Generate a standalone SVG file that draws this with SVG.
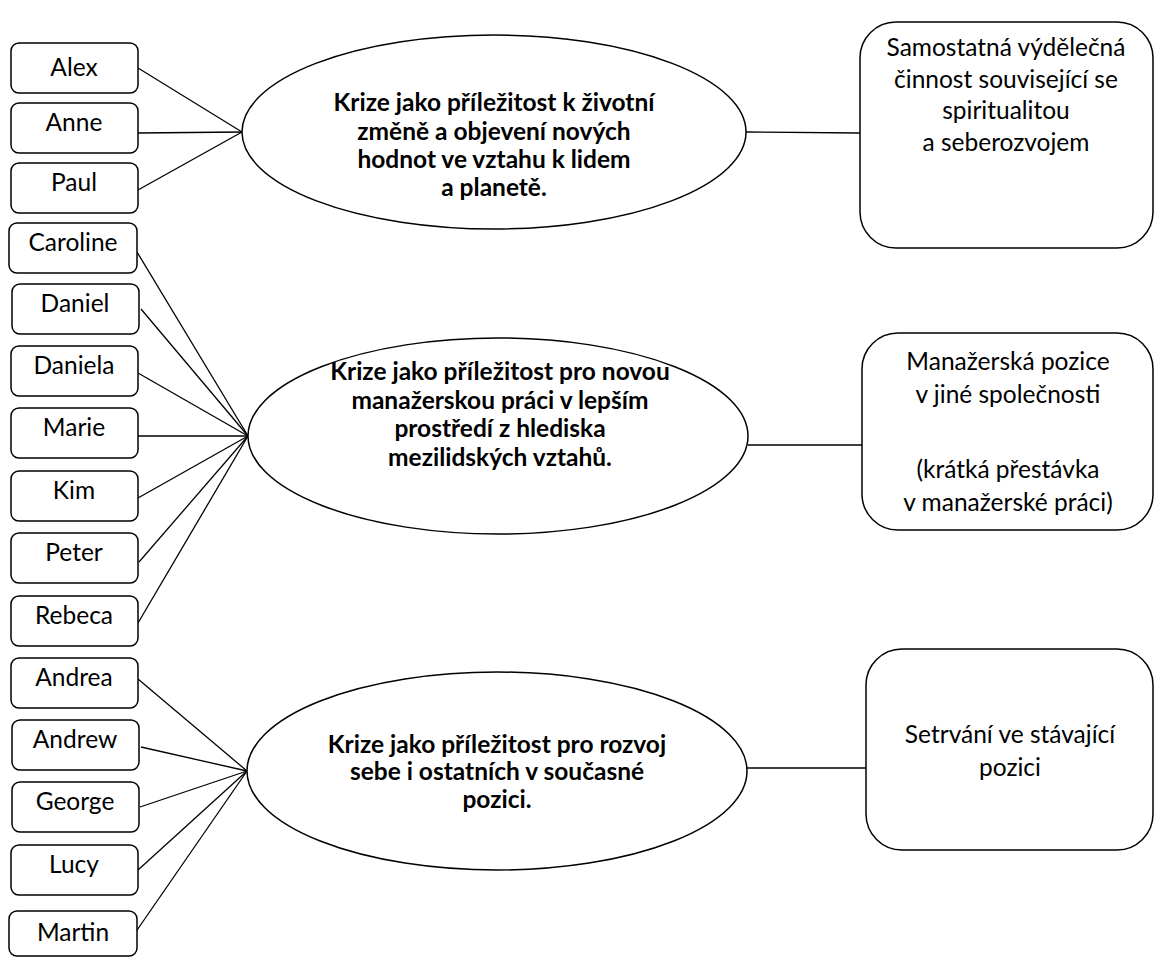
<svg xmlns="http://www.w3.org/2000/svg" width="1155" height="958" viewBox="0 0 1155 958">
  <style>
    .name rect { fill: #fff; stroke: #000; stroke-width: 1.5; }
    .name text { font-family: Lato, "Liberation Sans", sans-serif; font-size: 24.5px; text-anchor: middle; fill: #000; }
    .theme ellipse { fill: #fff; stroke: #000; stroke-width: 1.5; }
    .theme text { font-family: Lato, "Liberation Sans", sans-serif; font-size: 24.5px; font-weight: bold; text-anchor: middle; fill: #000; }
    .outcome rect { fill: #fff; stroke: #000; stroke-width: 1.5; }
    .outcome text { font-family: Lato, "Liberation Sans", sans-serif; font-size: 24.5px; text-anchor: middle; fill: #000; }
    #connectors line { stroke: #000; stroke-width: 1.3; }
  </style>

  <!-- connectors: participants to themes, themes to outcomes -->
  <g id="connectors">
    <line x1="138" y1="68" x2="242" y2="132"/>
    <line x1="138" y1="133" x2="242" y2="132"/>
    <line x1="138" y1="190" x2="242" y2="132"/>

    <line x1="137" y1="252" x2="248" y2="436"/>
    <line x1="141" y1="309" x2="248" y2="436"/>
    <line x1="138" y1="373" x2="248" y2="436"/>
    <line x1="138" y1="436" x2="248" y2="436"/>
    <line x1="138" y1="498" x2="248" y2="436"/>
    <line x1="139" y1="562" x2="248" y2="436"/>
    <line x1="138" y1="623" x2="248" y2="436"/>

    <line x1="138" y1="679" x2="247" y2="771"/>
    <line x1="141" y1="747" x2="247" y2="771"/>
    <line x1="140" y1="807" x2="247" y2="771"/>
    <line x1="138" y1="870" x2="247" y2="771"/>
    <line x1="135" y1="933" x2="247" y2="771"/>

    <line x1="746" y1="132" x2="860" y2="133"/>
    <line x1="748" y1="445" x2="862" y2="445"/>
    <line x1="747" y1="768" x2="866" y2="768"/>
  </g>

  <!-- participants -->
  <g id="n-alex" class="name"><rect x="11" y="43" width="127" height="50" rx="8"/><text x="74" y="76">Alex</text></g>
  <g id="n-anne" class="name"><rect x="11" y="103" width="127" height="50" rx="8"/><text x="74" y="131">Anne</text></g>
  <g id="n-paul" class="name"><rect x="11" y="163" width="127" height="50" rx="8"/><text x="74" y="191">Paul</text></g>

  <g id="n-caroline" class="name"><rect x="9" y="223" width="128" height="50" rx="8"/><text x="73" y="251">Caroline</text></g>
  <g id="n-daniel" class="name"><rect x="12" y="284" width="127" height="50" rx="8"/><text x="75" y="312">Daniel</text></g>
  <g id="n-daniela" class="name"><rect x="11" y="346" width="127" height="50" rx="8"/><text x="74" y="374">Daniela</text></g>
  <g id="n-marie" class="name"><rect x="11" y="408" width="127" height="50" rx="8"/><text x="74" y="436">Marie</text></g>
  <g id="n-kim" class="name"><rect x="11" y="471" width="127" height="50" rx="8"/><text x="74" y="499">Kim</text></g>
  <g id="n-peter" class="name"><rect x="11" y="533" width="127" height="50" rx="8"/><text x="74" y="561">Peter</text></g>
  <g id="n-rebeca" class="name"><rect x="11" y="596" width="127" height="50" rx="8"/><text x="74" y="624">Rebeca</text></g>

  <g id="n-andrea" class="name"><rect x="11" y="658" width="127" height="50" rx="8"/><text x="74" y="686">Andrea</text></g>
  <g id="n-andrew" class="name"><rect x="12" y="720" width="127" height="50" rx="8"/><text x="75" y="748">Andrew</text></g>
  <g id="n-george" class="name"><rect x="12" y="782" width="127" height="50" rx="8"/><text x="75" y="810">George</text></g>
  <g id="n-lucy" class="name"><rect x="11" y="845" width="127" height="50" rx="8"/><text x="74" y="873">Lucy</text></g>
  <g id="n-martin" class="name"><rect x="9" y="911" width="128" height="45" rx="8"/><text x="73" y="941">Martin</text></g>

  <!-- themes -->
  <g id="t-life-change" class="theme">
    <ellipse cx="494" cy="132" rx="252" ry="97"/>
    <text x="494" y="111">Krize jako příležitost k životní</text>
    <text x="494" y="140">změně a objevení nových</text>
    <text x="494" y="168">hodnot ve vztahu k lidem</text>
    <text x="494" y="196">a planetě.</text>
  </g>
  <g id="t-new-manager" class="theme">
    <ellipse cx="498" cy="436" rx="250" ry="98"/>
    <text x="500" y="380">Krize jako příležitost pro novou</text>
    <text x="500" y="409">manažerskou práci v lepším</text>
    <text x="500" y="437">prostředí z hlediska</text>
    <text x="500" y="466">mezilidských vztahů.</text>
  </g>
  <g id="t-development" class="theme">
    <ellipse cx="497" cy="771" rx="250" ry="99"/>
    <text x="497" y="753">Krize jako příležitost pro rozvoj</text>
    <text x="497" y="780">sebe i ostatních v současné</text>
    <text x="497" y="808">pozici.</text>
  </g>

  <!-- outcomes -->
  <g id="o-self-employed" class="outcome">
    <rect x="860" y="22" width="293" height="226" rx="36"/>
    <text x="1006" y="56">Samostatná výdělečná</text>
    <text x="1006" y="88">činnost související se</text>
    <text x="1006" y="119">spiritualitou</text>
    <text x="1006" y="151">a seberozvojem</text>
  </g>
  <g id="o-other-company" class="outcome">
    <rect x="862" y="333" width="291" height="197" rx="36"/>
    <text x="1008" y="370">Manažerská pozice</text>
    <text x="1008" y="403">v jiné společnosti</text>
    <text x="1008" y="478">(krátká přestávka</text>
    <text x="1008" y="511">v manažerské práci)</text>
  </g>
  <g id="o-stay" class="outcome">
    <rect x="866" y="649" width="287" height="201" rx="36"/>
    <text x="1010" y="743">Setrvání ve stávající</text>
    <text x="1010" y="776">pozici</text>
  </g>
</svg>
